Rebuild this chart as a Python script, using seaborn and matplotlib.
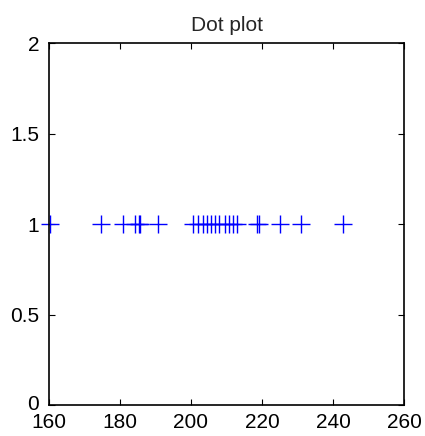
import seaborn as sns
import matplotlib.pyplot as plt
import matplotlib.transforms as mtransforms
import numpy as np

# valores
valores = [160.3, 174.6, 180.8, 184.3, 185.3, 185.6, 190.6,
           200.6, 201.9, 203.3, 204.4, 205.6, 206.7, 207.8, 209.5,
           210.6, 211.7, 213.0, 218.5, 219.2, 225.1, 231.0, 242.7]
nivel = [1] * len(valores)
xticks = [160, 180, 200, 220, 240, 260]
yticks = [0, 0.5, 1, 1.5, 2]

sns.set_style('ticks')
plt.rcParams['font.family'] = ['Liberation Sans', 'DejaVu Sans']

fig = plt.figure(figsize=(4.25, 4.36), dpi=100)
ax = fig.add_axes([0.115, 0.071, 0.836, 0.830])
pts = sns.scatterplot(x=valores, y=nivel, marker='+', s=150, color='blue',
                      linewidth=1, ax=ax)
for c in ax.collections:
    c.set_clip_on(False)

ax.set_xlim(160, 260)
ax.set_ylim(0, 2)
ax.set_xticks(xticks)
ax.set_yticks(yticks)
ax.set_yticklabels(['0', '0.5', '1', '1.5', '2'])
ax.tick_params(direction='in', top=True, right=True, labelsize=15,
               length=4, width=0.8, colors='black')
ax.tick_params(axis='x', pad=6)
ax.tick_params(axis='y', pad=7)
for s in ax.spines.values():
    s.set_color('black')
    s.set_linewidth(1.2)
ax.set_title('Dot plot', fontsize=15, pad=9)

# subir un poco la etiqueta "0" como en la original
lbl0 = ax.get_yticklabels()[0]
lbl0.set_transform(lbl0.get_transform() +
                   mtransforms.ScaledTranslation(0, 3 / 100, fig.dpi_scale_trans))

fig.savefig('out.png', dpi=100)
